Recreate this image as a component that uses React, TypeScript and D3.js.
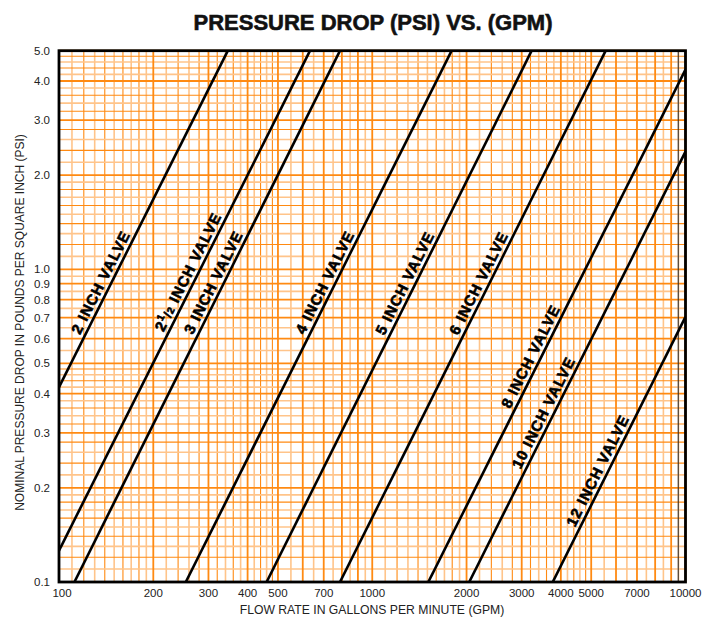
import * as d3 from "d3";

// axis ticks
const xTicks = [100, 200, 300, 400, 500, 700, 1000, 2000, 3000, 4000, 5000, 7000, 10000];
const yTicks = [0.1, 0.2, 0.3, 0.4, 0.5, 0.6, 0.7, 0.8, 0.9, 1, 2, 3, 4, 5];

// valve curves, read as two end points each: [gpm, psi]
const valveNames = [
  "2 INCH VALVE",
  "2 1/2 INCH VALVE",
  "3 INCH VALVE",
  "4 INCH VALVE",
  "5 INCH VALVE",
  "6 INCH VALVE",
  "8 INCH VALVE",
  "10 INCH VALVE",
  "12 INCH VALVE",
];
const valveStart: [number, number][] = [
  [100, 0.42],
  [100, 0.126],
  [112, 0.1],
  [254, 0.1],
  [460, 0.1],
  [789, 0.1],
  [1510, 0.1],
  [2040, 0.1],
  [3768, 0.1],
];
const valveEnd: [number, number][] = [
  [346, 5.0],
  [633, 5.0],
  [789, 5.0],
  [1793, 5.0],
  [3228, 5.0],
  [5564, 5.0],
  [10000, 4.35],
  [10000, 2.38],
  [10000, 0.704],
];
// pressure (psi) where each label sits on its curve
const labelPsi = [0.88, 0.95, 0.88, 0.88, 0.875, 0.875, 0.51, 0.337, 0.22];

const W = 714;
const H = 617;
const left = 59;
const right = 685.5;
const top = 50.7;
const bottom = 582;

const ORANGE = "#ff8a12";
const PALE = "#ffc48a";
const FONT = "'Liberation Sans', Arial, Helvetica, sans-serif";

function gridValues(lo: number, hi: number) {
  const out: { v: number; major: boolean; pale: boolean }[] = [];
  for (let d = lo; d < hi; d *= 10) {
    for (let i = 10; i < 100; i++) {
      const m = i / 10;
      if (m >= 2 && m < 5 && i % 2 === 1) continue;
      if (m >= 5 && i % 5 !== 0) continue;
      const major = i % 10 === 0;
      const pale = !major && (m < 2 ? i % 2 === 1 : m < 5 ? i % 4 === 2 : i % 10 === 5);
      out.push({ v: d * m, major, pale });
    }
  }
  out.push({ v: hi, major: true, pale: false });
  return out;
}

export default function App() {
  const x = d3.scaleLog().domain([100, 10000]).range([left, right]);
  const y = d3.scaleLog().domain([0.1, 5]).range([bottom, top]);

  const xGrid = gridValues(100, 10000);
  const yGrid = gridValues(0.1, 10).filter((g) => g.v <= 5.0001);

  const line = d3
    .line<[number, number]>()
    .x((d) => x(d[0]))
    .y((d) => y(d[1]));

  const labels = valveNames.map((name, i) => {
    const [q0, p0] = valveStart[i];
    const [q1, p1] = valveEnd[i];
    const t = Math.log(labelPsi[i] / p0) / Math.log(p1 / p0);
    const q = Math.exp(Math.log(q0) + t * Math.log(q1 / q0));
    const fx = x(q);
    const fy = y(labelPsi[i]);
    const ang = (Math.atan2(y(p1) - y(p0), x(q1) - x(q0)) * 180) / Math.PI;
    return { name, fx, fy, ang };
  });

  return (
    <svg
      width={W}
      height={H}
      style={{ position: "absolute", left: 0, top: 0, background: "#fff" }}
    >
      <defs>
        <clipPath id="plot">
          <rect x={left} y={top} width={right - left} height={bottom - top} />
        </clipPath>
      </defs>

      <text
        x={373}
        y={30}
        textAnchor="middle"
        fontFamily={FONT}
        fontWeight="bold"
        fontSize={22}
        fill="#111"
        stroke="#111"
        strokeWidth={0.6}
      >
        PRESSURE DROP (PSI) VS. (GPM)
      </text>

      <g>
        {xGrid
          .filter((g) => !g.major)
          .map((g, i) => (
            <line
              key={"xm" + i}
              x1={x(g.v)}
              x2={x(g.v)}
              y1={top}
              y2={bottom}
              stroke={g.pale ? PALE : ORANGE}
              strokeWidth={g.pale ? 1.6 : 1.1}
            />
          ))}
        {yGrid
          .filter((g) => !g.major)
          .map((g, i) => (
            <line
              key={"ym" + i}
              x1={left}
              x2={right}
              y1={y(g.v)}
              y2={y(g.v)}
              stroke={g.pale ? PALE : ORANGE}
              strokeWidth={g.pale ? 1.6 : 1.1}
            />
          ))}
        {xGrid
          .filter((g) => g.major)
          .map((g, i) => (
            <line
              key={"xM" + i}
              x1={x(g.v)}
              x2={x(g.v)}
              y1={top}
              y2={bottom}
              stroke={ORANGE}
              strokeWidth={1.8}
            />
          ))}
        {yGrid
          .filter((g) => g.major)
          .map((g, i) => (
            <line
              key={"yM" + i}
              x1={left}
              x2={right}
              y1={y(g.v)}
              y2={y(g.v)}
              stroke={ORANGE}
              strokeWidth={1.8}
            />
          ))}
        <line x1={x(9480)} x2={x(9480)} y1={top} y2={bottom} stroke="#222" strokeWidth={1} />
      </g>

      <g clipPath="url(#plot)">
        {valveNames.map((n, i) => (
          <path
            key={n}
            d={line([valveStart[i], valveEnd[i]]) || ""}
            fill="none"
            stroke="#000"
            strokeWidth={2.6}
          />
        ))}
      </g>

      {labels.map((l, i) => (
        <text
          key={l.name}
          transform={`translate(${l.fx},${l.fy}) rotate(${l.ang})`}
          y={-4.5}
          textAnchor="middle"
          fontFamily={FONT}
          fontWeight="bold"
          fontSize={15}
          letterSpacing={1}
          fill="#000"
          stroke="#000"
          strokeWidth={0.6}
        >
          {i === 1 ? (
            <>
              <tspan>2</tspan>
              <tspan dy={-6} fontSize={10}>1</tspan>
              <tspan dy={6} fontSize={12}>/</tspan>
              <tspan fontSize={10}>2</tspan>
              <tspan> INCH VALVE</tspan>
            </>
          ) : (
            l.name
          )}
        </text>
      ))}

      <rect
        x={left}
        y={top}
        width={right - left}
        height={bottom - top}
        fill="none"
        stroke="#000"
        strokeWidth={2.8}
      />

      {yTicks.map((v) => (
        <text
          key={"yt" + v}
          x={50}
          y={y(v)}
          dy="0.35em"
          textAnchor="end"
          fontFamily={FONT}
          fontSize={11.5}
          fill="#222"
        >
          {v.toFixed(1)}
        </text>
      ))}
      {xTicks.map((v) => (
        <text
          key={"xt" + v}
          x={x(v) + (v === 100 ? 3 : 0)}
          y={597}
          textAnchor="middle"
          fontFamily={FONT}
          fontSize={11.5}
          fill="#222"
        >
          {v}
        </text>
      ))}

      <text
        x={372}
        y={614}
        textAnchor="middle"
        fontFamily={FONT}
        fontSize={12.2}
        fill="#222"
      >
        FLOW RATE IN GALLONS PER MINUTE (GPM)
      </text>
      <text
        transform={`translate(24,${(130 + 515) / 2}) rotate(-90)`}
        textAnchor="middle"
        fontFamily={FONT}
        fontSize={12}
        fill="#222"
      >
        NOMINAL PRESSURE DROP IN POUNDS PER SQUARE INCH (PSI)
      </text>
    </svg>
  );
}
